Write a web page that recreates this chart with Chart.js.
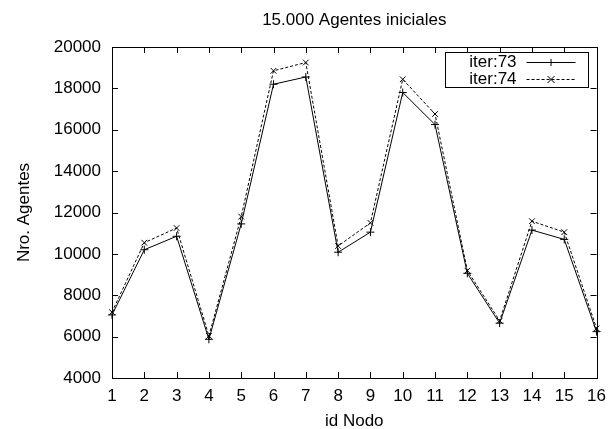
<!DOCTYPE html>
<html>
<head>
<meta charset="utf-8">
<script src="https://cdn.jsdelivr.net/npm/chart.js@4/dist/chart.umd.min.js"></script>
<style>
  html, body { margin: 0; padding: 0; background: #fff; }
  #wrap { width: 614px; height: 429px; }
</style>
</head>
<body>
<div id="wrap"><canvas id="chart1"></canvas></div>
<script>
"use strict";

const chartTitle = '15.000 Agentes iniciales';
const nodes = ['1', '2', '3', '4', '5', '6', '7', '8', '9', '10', '11', '12', '13', '14', '15', '16'];
const iter73 = [7050, 10200, 10850, 5870, 11450, 18200, 18550, 10080, 11050, 17800, 16250, 9060, 6650, 11150, 10700, 6240];
const iter74 = [7180, 10540, 11250, 6030, 11800, 18850, 19250, 10380, 11500, 18440, 16760, 9190, 6770, 11580, 11050, 6400];
const yTicks = { min: 4000, max: 20000, step: 2000 };

const FONT = "'Liberation Sans', Arial, sans-serif";
Chart.defaults.font.family = FONT;
Chart.defaults.font.size = 17;
Chart.defaults.color = '#000';

// gnuplot style: box round the plot, ticks pointing inwards on all four sides,
// title centred over the plot area instead of the whole canvas
const frameTicks = {
    id: 'frameTicks',
    afterDatasetsDraw(chart) {
        const {ctx, chartArea: a, scales: {x, y}} = chart;
        const len = 6;
        ctx.save();
        ctx.strokeStyle = '#000';
        ctx.lineWidth = 1;
        ctx.beginPath();
        y.ticks.forEach(t => {
            const py = Math.round(y.getPixelForValue(t.value)) + 0.5;
            ctx.moveTo(a.left, py); ctx.lineTo(a.left + len, py);
            ctx.moveTo(a.right, py); ctx.lineTo(a.right - len, py);
        });
        x.ticks.forEach((t, i) => {
            const px = Math.round(x.getPixelForTick(i)) + 0.5;
            ctx.moveTo(px, a.bottom); ctx.lineTo(px, a.bottom - len);
            ctx.moveTo(px, a.top); ctx.lineTo(px, a.top + len);
        });
        ctx.stroke();
        ctx.strokeRect(Math.round(a.left) + 0.5, Math.round(a.top) + 0.5,
            Math.round(a.right - a.left), Math.round(a.bottom - a.top));

        ctx.font = '17px ' + FONT;
        ctx.fillStyle = '#000';
        ctx.textAlign = 'center';
        ctx.textBaseline = 'middle';
        ctx.fillText(chartTitle, (a.left + a.right) / 2, 20);
        ctx.restore();
    }
};

// key box in the top right corner, sample line with the marker in its middle
const gnuKey = {
    id: 'gnuKey',
    afterDraw(chart) {
        const {ctx, chartArea: a} = chart;
        const box = {l: a.right - 152, r: a.right - 9, t: a.top + 5, b: a.top + 40};
        const textRight = a.right - 80;
        const lineL = a.right - 70, lineR = a.right - 21;
        ctx.save();
        ctx.strokeStyle = '#000';
        ctx.lineWidth = 1;
        ctx.strokeRect(Math.round(box.l) + 0.5, Math.round(box.t) + 0.5,
            Math.round(box.r - box.l), Math.round(box.b - box.t));
        ctx.font = '17px ' + FONT;
        ctx.fillStyle = '#000';
        ctx.textAlign = 'right';
        ctx.textBaseline = 'middle';
        chart.data.datasets.forEach((ds, i) => {
            const ry = Math.round(box.t + 9.5 + i * 17.5) + 0.5;
            ctx.fillText(ds.label, textRight, ry);
            ctx.setLineDash(ds.borderDash || []);
            ctx.beginPath();
            ctx.moveTo(lineL, ry); ctx.lineTo(lineR, ry);
            ctx.stroke();
            ctx.setLineDash([]);
            const mx = (lineL + lineR) / 2, r = 3.5;
            ctx.beginPath();
            if (ds.pointStyle === 'cross') {
                ctx.moveTo(mx - r, ry); ctx.lineTo(mx + r, ry);
                ctx.moveTo(mx, ry - r); ctx.lineTo(mx, ry + r);
            } else {
                ctx.moveTo(mx - r, ry - r); ctx.lineTo(mx + r, ry + r);
                ctx.moveTo(mx - r, ry + r); ctx.lineTo(mx + r, ry - r);
            }
            ctx.stroke();
        });
        ctx.restore();
    }
};

const data = {
    labels: nodes,
    datasets: [{
        label: 'iter:73',
        data: iter73,
        borderColor: '#000',
        backgroundColor: '#000',
        borderWidth: 1,
        pointStyle: 'cross',
        pointRadius: 4,
        pointBorderWidth: 1,
        tension: 0,
        clip: false
    }, {
        label: 'iter:74',
        data: iter74,
        borderColor: '#000',
        backgroundColor: '#000',
        borderWidth: 1,
        borderDash: [3, 2],
        pointStyle: 'crossRot',
        pointRadius: 4,
        pointBorderWidth: 1,
        tension: 0,
        clip: false
    }]
};

const config = {
    type: 'line',
    data: data,
    plugins: [frameTicks, gnuKey],
    options: {
        responsive: true,
        maintainAspectRatio: false,
        devicePixelRatio: 1,
        animation: false,
        layout: { padding: { left: 0, right: 12, top: 47, bottom: 0 } },
        plugins: {
            legend: { display: false },
            tooltip: { enabled: false },
            title: { display: false }
        },
        scales: {
            x: {
                offset: false,
                grid: { display: false, drawTicks: false },
                border: { display: false },
                ticks: { padding: 8, maxRotation: 0, autoSkip: false },
                title: { display: true, text: 'id Nodo', padding: { top: 0, bottom: -3 } },
                afterFit(scale) { scale.height = 51; }
            },
            y: {
                min: yTicks.min,
                max: yTicks.max,
                grid: { display: false, drawTicks: false },
                border: { display: false },
                ticks: { stepSize: yTicks.step, padding: 11, callback: v => String(v) },
                title: { display: true, text: 'Nro. Agentes', padding: { top: 14, bottom: 0 } },
                afterFit(scale) { scale.width = 112; }
            }
        }
    }
};

const myChart = new Chart(document.getElementById('chart1'), config);
</script>
</body>
</html>
